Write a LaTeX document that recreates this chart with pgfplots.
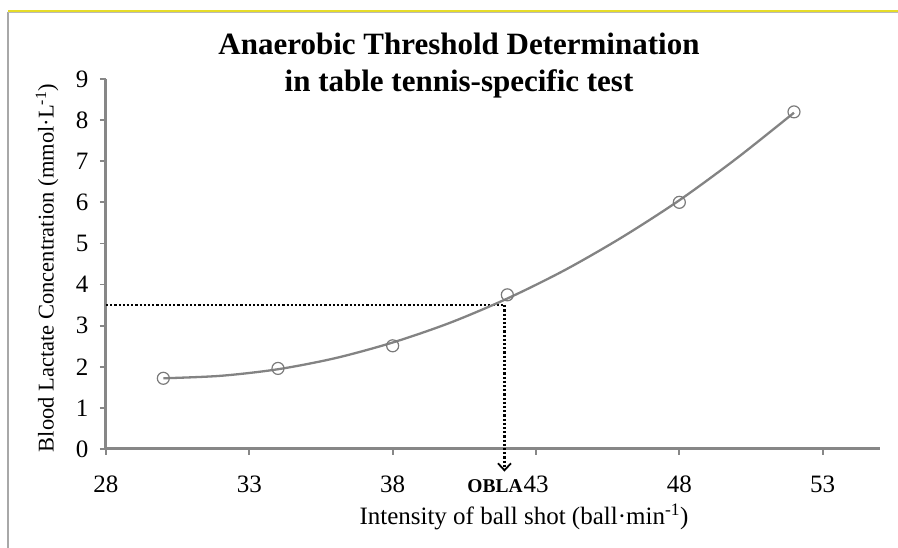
\documentclass[border=0pt]{standalone}
\usepackage{pgfplots}
\pgfplotsset{compat=1.18}
\usepackage{fontspec}
\setmainfont{Liberation Serif}
\usetikzlibrary{arrows.meta}

\definecolor{axgray}{HTML}{878787}
\definecolor{curvegray}{HTML}{838383}
\definecolor{markgray}{HTML}{7A7A7A}
\definecolor{frameyel}{HTML}{E6DC28}
\definecolor{framegray}{HTML}{A8A8A8}

\begin{document}
\begin{tikzpicture}
\path[use as bounding box] (0,0) rectangle (898pt,548pt);
% chart frame
\draw[framegray, line width=1.6pt] (8pt,0) -- (8pt,536pt);
\draw[frameyel, line width=2pt] (8pt,536.8pt) -- (898pt,536.8pt);
\draw[framegray!80, line width=0.8pt] (8pt,535.3pt) -- (898pt,535.3pt);

\begin{axis}[
    scale only axis,
    width=774pt, height=370pt,
    at={(106pt,99pt)}, anchor=south west,
    xmin=28, xmax=55, ymin=0, ymax=9,
    xtick={28,33,38,43,48,53},
    ytick={0,1,2,3,4,5,6,7,8,9},
    axis lines*=left,
    axis line style={axgray, line width=3pt},
    tick align=outside,
    major tick length=6pt,
    tick style={axgray, line width=1.8pt},
    /pgf/number format/assume math mode=true,
    tick label style={font=\fontsize{25}{26}\selectfont},
    xticklabel style={yshift=-17pt},
    yticklabel style={xshift=-8pt},
    xlabel={Intensity of ball shot (ball·min\textsuperscript{-1})},
    ylabel={Blood Lactate Concentration (mmol·L\textsuperscript{-1})},
    xlabel style={font=\fontsize{25}{26}\selectfont,
      at={(axis description cs:0.54,-0.205)}, anchor=base},
    ylabel style={font=\fontsize{22.5}{24}\selectfont,
      at={(axis description cs:-0.076,0.489)}, anchor=center},
    clip=false,
]
% OBLA guide lines
\addplot[black, line width=2.3pt, dash pattern=on 2.2pt off 2pt]
  coordinates {(28,3.5) (41.9,3.5)};
\addplot[black, line width=2.3pt, dash pattern=on 2.2pt off 2pt,
  -{Straight Barb[length=7pt, width=13pt, line width=1.8pt]}]
  coordinates {(41.9,3.5) (41.9,-0.55)};

% fitted curve
\addplot[curvegray, line width=2.3pt, smooth] coordinates {
  (30,1.72) (32,1.78) (34,1.94) (36,2.21) (38,2.59) (40,3.07)
  (42,3.66) (44,4.35) (46,5.15) (48,6.05) (50,7.07) (52,8.18)
};

% measured points
\addplot[only marks, mark=o, mark size=6pt, mark options={markgray, line width=1.2pt}]
  coordinates {(30,1.72) (34,1.96) (38,2.51) (42,3.75) (48,6.0) (52,8.2)};

\node[anchor=base east, font=\fontsize{19.5}{20}\selectfont\bfseries, inner sep=0pt]
  at (axis cs:42.54,-1.05) {OBLA};
\end{axis}

% title
\node[anchor=base, font=\fontsize{31}{34}\selectfont\bfseries] at (459pt,493pt)
  {Anaerobic Threshold Determination};
\node[anchor=base, font=\fontsize{31}{34}\selectfont\bfseries] at (459pt,456pt)
  {in table tennis-specific test};
\end{tikzpicture}
\end{document}
